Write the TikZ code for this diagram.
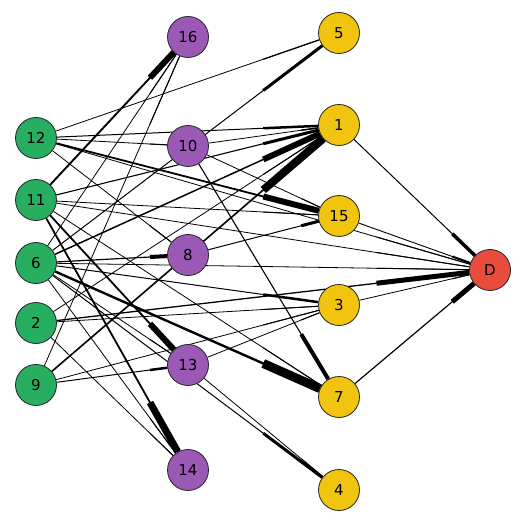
\documentclass[tikz,border=0pt]{standalone}
\usepackage{fontspec}
\setmainfont{DejaVu Sans}
\usetikzlibrary{calc}
\pgfdeclarelayer{back}
\pgfdeclarelayer{bg}
\pgfsetlayers{back,bg,main}
\definecolor{cgreen}{HTML}{27AE60}
\definecolor{cpurple}{HTML}{9B59B6}
\definecolor{cyellow}{HTML}{F1C40F}
\definecolor{cred}{HTML}{E74C3C}
\begin{document}
\begin{tikzpicture}[x=1pt,y=1pt,
  vnode/.style={circle,draw=black!85,line width=0.8pt,minimum size=41pt,inner sep=0pt,font=\fontsize{15}{17}\selectfont},
  gnode/.style={vnode,fill=cgreen},
  pnode/.style={vnode,fill=cpurple},
  ynode/.style={vnode,fill=cyellow},
  rnode/.style={vnode,fill=cred},
  baseedge/.style={black},
  headedge/.style={black}]
\begin{pgfonlayer}{back}
\fill[white] (0,0) rectangle (522,520);
\end{pgfonlayer}
\useasboundingbox (0,0) rectangle (522,520);
\node[pnode] (n16) at (188,483) {16};
\node[ynode] (n5) at (339,487) {5};
\node[gnode] (n12) at (36,382) {12};
\node[pnode] (n10) at (188,374) {10};
\node[ynode] (n1) at (339,395) {1};
\node[gnode] (n11) at (36,320) {11};
\node[ynode] (n15) at (339,304) {15};
\node[gnode] (n6) at (36,257) {6};
\node[pnode] (n8) at (188,265) {8};
\node[rnode] (nD) at (490,250) {D};
\node[ynode] (n3) at (339,215) {3};
\node[gnode] (n2) at (36,197) {2};
\node[gnode] (n9) at (36,135) {9};
\node[pnode] (n13) at (188,155) {13};
\node[ynode] (n7) at (339,123) {7};
\node[pnode] (n14) at (188,50) {14};
\node[ynode] (n4) at (339,30) {4};
\begin{pgfonlayer}{bg}
\foreach \a/\b/\w/\t in {
  n12/n5/1.2/0.8, n12/n1/2.5/1.0, n12/n10/1/0.8, n12/n15/6/1.8, n12/nD/1/0.8, n12/n8/1/0.8,
  n11/n16/6/1.9, n11/n1/3/1.1, n11/nD/1/0.8, n11/n13/6/1.8, n11/n14/7/1.8, n11/n7/1/0.8, n11/n15/1/0.8,
  n6/n16/1/0.8, n6/n5/3/1.0, n6/n1/6/1.5, n6/n8/4/1.2, n6/nD/1/0.8, n6/n3/2.5/1.0, n6/n7/9/2.4, n6/n4/3/1.0, n6/n13/1/0.8, n6/n14/1/0.8,
  n2/n1/1/0.8, n2/n3/1/0.8, n2/nD/5/1.3, n2/n14/1/0.8,
  n9/n16/1/0.8, n9/n1/8/1.6, n9/n13/2.5/1.0, n9/n3/1/0.8,
  n10/n1/1.5/0.8, n10/n15/1/0.8, n10/n7/4/1.1,
  n8/n15/3/1.0,
  n13/n3/1/0.8, n13/n4/1/0.8,
  n1/nD/3.5/1.0, n15/nD/2/0.9, n3/nD/1/0.8, n7/nD/5/1.2}{
  \draw[baseedge,line width=\t pt] (\a) -- (\b);
  \draw[headedge,line width=\w pt] ($(\a.center)!0.75!(\b.center)$) -- (\b);
}
\end{pgfonlayer}
\end{tikzpicture}
\end{document}
